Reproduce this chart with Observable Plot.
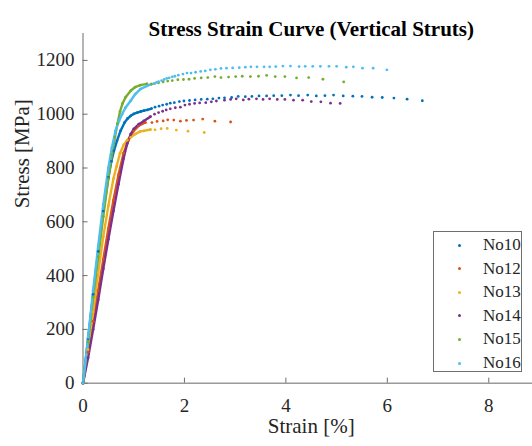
<!DOCTYPE html>
<html>
<head>
<meta charset="utf-8">
<script src="https://cdn.jsdelivr.net/npm/d3@7"></script>
<script src="https://cdn.jsdelivr.net/npm/@observablehq/plot@0.6"></script>
<style>
  html, body { margin: 0; padding: 0; background: #fff; overflow: hidden; }
  #chart { position: relative; width: 539px; height: 446px; }
  #chart svg { position: absolute; left: 0; top: 0; max-width: none; }
  .legend {
    position: absolute; left: 433px; top: 231px; width: 89px; height: 141px;
    box-sizing: border-box; border: 1px solid #6e6e6e; background: #fff;
    font-family: "Liberation Serif", "Times New Roman", serif; font-size: 17px; color: #262626;
  }
  .legend .row { position: absolute; left: 0; width: 100%; height: 20px; line-height: 20px; }
  .legend .mk { position: absolute; left: 23.5px; top: 8.5px; width: 3px; height: 3px; border-radius: 50%; }
  .legend .lb { position: absolute; left: 49px; top: 0; }
</style>
</head>
<body>
<div id="chart"></div>
<script>
// Specimens and their line colours
const seriesNames = ["No10", "No12", "No13", "No14", "No15", "No16"];
const seriesColors = ["#0072BD", "#D95319", "#EDB120", "#7E2F8E", "#77AC30", "#4DBEEE"];

// Axis ticks
const xTicks = [0, 2, 4, 6, 8];
const yTicks = [0, 200, 400, 600, 800, 1000, 1200];

// Continuous loading segment of each test: [strain %, stress MPa]
const no10Load = [[0,0],[0.1,165],[0.2,330],[0.3,490],[0.4,640],[0.5,765],[0.56,825],[0.61,864],[0.67,901],[0.74,938],[0.82,969],[0.88,984],[0.94,994],[1.0,1001],[1.07,1006],[1.14,1010],[1.2,1013],[1.27,1016],[1.35,1021]];
const no12Load = [[0,0],[0.1,115],[0.2,230],[0.3,345],[0.4,460],[0.5,575],[0.6,680],[0.7,775],[0.8,855],[0.9,905],[1.0,938],[1.1,957],[1.23,969]];
const no13Load = [[0,0],[0.1,125],[0.2,265],[0.3,410],[0.4,545],[0.5,660],[0.6,760],[0.66,805],[0.73,855],[0.8,885],[0.87,903],[0.94,914],[1.03,926],[1.13,936],[1.2,938],[1.33,943]];
const no14Load = [[0,0],[0.1,95],[0.2,200],[0.3,310],[0.4,425],[0.5,535],[0.6,640],[0.7,740],[0.8,835],[0.87,890],[0.94,926],[1.0,945],[1.1,963],[1.2,975],[1.33,991]];
const no15Load = [[0,0],[0.1,155],[0.2,320],[0.3,470],[0.4,620],[0.5,760],[0.57,850],[0.63,915],[0.68,965],[0.73,1010],[0.78,1040],[0.84,1063],[0.94,1087],[1.03,1101],[1.13,1108],[1.26,1113]];
const no16Load = [[0,0],[0.1,170],[0.2,345],[0.3,510],[0.4,665],[0.5,800],[0.57,876],[0.64,938],[0.71,975],[0.77,1000],[0.84,1025],[0.94,1050],[1.03,1075],[1.13,1093],[1.26,1105],[1.35,1112]];

// Sparser logged points after yield: [strain %, stress MPa]
const no10Logged = [[1.42,1026],[1.50,1030],[1.57,1034],[1.65,1037],[1.72,1041],[1.80,1043],[1.90,1047],[1.99,1049],[2.10,1051],[2.21,1053],[2.33,1055],[2.45,1056],[2.56,1057],[2.68,1060],[2.79,1061],[2.93,1062],[3.06,1066],[3.20,1065],[3.33,1066],[3.47,1068],[3.62,1068],[3.76,1069],[3.92,1069],[4.09,1071],[4.25,1069],[4.43,1071],[4.60,1068],[4.77,1069],[4.94,1071],[5.13,1068],[5.32,1067],[5.50,1066],[5.70,1063],[5.90,1062],[6.13,1060],[6.39,1056],[6.69,1050]];
const no12Logged = [[1.36,969],[1.46,973],[1.58,975],[1.67,979],[1.79,978],[1.92,974],[2.04,977],[2.18,978],[2.36,982],[2.60,974],[2.91,971]];
const no13Logged = [[1.42,942],[1.54,946],[1.66,947],[1.84,941],[2.07,937],[2.39,932]];
const no14Logged = [[1.41,1000],[1.49,1006],[1.57,1011],[1.64,1016],[1.72,1020],[1.82,1024],[1.92,1026],[2.01,1034],[2.10,1037],[2.20,1040],[2.30,1042],[2.42,1043],[2.53,1046],[2.63,1049],[2.79,1052],[2.91,1055],[3.02,1057],[3.16,1053],[3.27,1056],[3.42,1057],[3.55,1055],[3.68,1057],[3.83,1055],[3.98,1055],[4.15,1052],[4.33,1052],[4.50,1047],[4.69,1046],[4.88,1041],[5.07,1040]];
const no15Logged = [[1.35,1112],[1.41,1114],[1.49,1117],[1.58,1120],[1.67,1123],[1.76,1125],[1.87,1128],[1.98,1129],[2.09,1130],[2.20,1133],[2.33,1135],[2.46,1136],[2.60,1140],[2.72,1136],[2.87,1138],[3.01,1140],[3.14,1141],[3.30,1140],[3.46,1141],[3.62,1144],[3.79,1140],[3.98,1140],[4.21,1135],[4.45,1136],[4.73,1130],[5.14,1120]];
const no16Logged = [[1.40,1114],[1.45,1118],[1.49,1121],[1.55,1125],[1.60,1129],[1.65,1133],[1.70,1135],[1.76,1139],[1.81,1141],[1.88,1145],[1.97,1149],[2.05,1153],[2.13,1153],[2.22,1156],[2.32,1159],[2.41,1161],[2.51,1165],[2.61,1167],[2.72,1170],[2.83,1171],[2.95,1172],[3.08,1173],[3.20,1175],[3.31,1176],[3.43,1176],[3.57,1176],[3.68,1176],[3.80,1177],[3.94,1179],[4.09,1179],[4.26,1177],[4.38,1178],[4.53,1178],[4.68,1178],[4.85,1178],[5.00,1178],[5.19,1175],[5.33,1176],[5.51,1171],[5.72,1171],[5.99,1165]];

const loadSets = [no10Load, no12Load, no13Load, no14Load, no15Load, no16Load];
const loggedSets = [no10Logged, no12Logged, no13Logged, no14Logged, no15Logged, no16Logged];

const toRows = (sets) => sets.flatMap((pts, i) =>
  pts.map(([strain, stress]) => ({series: seriesNames[i], strain, stress})));
const loadRows = toRows(loadSets);
const loggedRows = toRows(loggedSets);

const W = 539, H = 446, mL = 82.5, mT = 33, mB = 63.3;
const frameW = W - mL, frameH = H - mT - mB;
const serif = '"Liberation Serif", "Times New Roman", serif';
const plain = d => String(d);

const chart = Plot.plot({
  width: W, height: H,
  marginLeft: mL, marginRight: 0, marginTop: mT, marginBottom: mB,
  style: {fontFamily: serif, fontSize: "19px", color: "#262626", background: "transparent", maxWidth: "none", overflow: "visible"},
  x: {domain: [0, 9]},
  y: {domain: [0, 1300]},
  color: {domain: seriesNames, range: seriesColors},
  marks: [
    // tick labels
    Plot.axisX(xTicks, {tickSize: 0, tickPadding: 15, tickFormat: plain, label: null,
      fontFamily: serif, fontSize: 19, fontVariant: "normal", fill: "#262626"}),
    Plot.axisY(yTicks, {tickSize: 0, tickPadding: 8.5, tickFormat: plain, label: null,
      fontFamily: serif, fontSize: 19, fontVariant: "normal", fill: "#262626"}),
    // axis lines with inward ticks
    Plot.ruleY([0], {stroke: "#9a9a9a", strokeWidth: 1.6}),
    Plot.ruleX([0], {stroke: "#6b6b6b", strokeWidth: 1}),
    Plot.tickX(xTicks, {x: d => d, insetTop: frameH - 5, stroke: "#6b6b6b"}),
    Plot.tickY(yTicks, {y: d => d, insetRight: frameW - 5, stroke: "#6b6b6b"}),
    // dense loading segments read as a thick dotted trace
    Plot.line(loadRows, {x: "strain", y: "stress", z: "series", stroke: "series", strokeWidth: 2.4}),
    Plot.dot(loadRows, {x: "strain", y: "stress", fill: "series", r: 1.4}),
    Plot.dot(loggedRows, {x: "strain", y: "stress", fill: "series", r: 1.4}),
    // title and axis labels
    Plot.text(["Stress Strain Curve (Vertical Struts)"], {text: d => d, frameAnchor: "top", dy: -12.7,
      fontFamily: serif, fontSize: 21, fontWeight: "bold", fill: "#000"}),
    Plot.text(["Strain [%]"], {text: d => d, frameAnchor: "bottom", dy: 50, fontFamily: serif, fontSize: 21, fill: "#262626"}),
    Plot.text(["Stress [MPa]"], {text: d => d, frameAnchor: "left", dx: -60.8, rotate: -90, fontFamily: serif, fontSize: 21, fill: "#262626"})
  ]
});

const root = document.getElementById("chart");
root.appendChild(chart);

// legend box
const legend = document.createElement("div");
legend.className = "legend";
seriesNames.forEach((name, i) => {
  const row = document.createElement("div");
  row.className = "row";
  row.style.top = (3 + i * 23.6) + "px";
  const mk = document.createElement("span");
  mk.className = "mk";
  mk.style.background = seriesColors[i];
  const lb = document.createElement("span");
  lb.className = "lb";
  lb.textContent = name;
  row.appendChild(mk);
  row.appendChild(lb);
  legend.appendChild(row);
});
root.appendChild(legend);
</script>
</body>
</html>
